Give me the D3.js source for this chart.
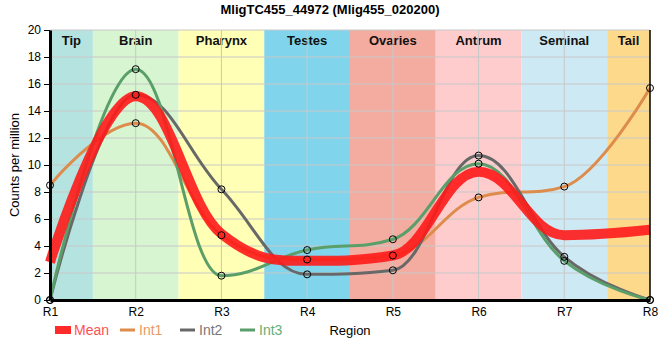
<!DOCTYPE html>
<html>
<head>
<meta charset="utf-8">
<script src="https://cdn.jsdelivr.net/npm/d3@7"></script>
<style>
  body { margin: 0; background: #fff; }
  text { font-family: "Liberation Sans", Arial, sans-serif; }
</style>
</head>
<body>
<div id="chart"></div>
<script>
// chart data
const title = "MligTC455_44972 (Mlig455_020200)";
const regions = ["R1", "R2", "R3", "R4", "R5", "R6", "R7", "R8"];
const tissues = ["Tip", "Brain", "Pharynx", "Testes", "Ovaries", "Antrum", "Seminal", "Tail"];
const tissueColors = ["#b5e3e0", "#d7f5d0", "#ffffb5", "#80d5ec", "#f5aca0", "#fecccc", "#cde9f3", "#fdd98c"];
const int1 = [8.5, 13.1, 4.8, 3.0, 3.3, 7.6, 8.4, 15.7];
const int2 = [0, 15.2, 8.2, 1.9, 2.2, 10.7, 3.2, 0];
const int3 = [0, 17.1, 1.8, 3.7, 4.5, 10.1, 2.9, 0];
const mean = [2.8, 15.1, 4.9, 2.9, 3.3, 9.5, 4.8, 5.2];
const yTicks = [0, 2, 4, 6, 8, 10, 12, 14, 16, 18, 20];

const W = 660, H = 360;
const margin = {top: 30, right: 10, bottom: 60, left: 50};
const width = W - margin.left - margin.right;
const height = H - margin.top - margin.bottom;

const svg = d3.select("#chart").append("svg")
    .attr("width", W)
    .attr("height", H);

const g = svg.append("g")
    .attr("transform", `translate(${margin.left}, ${margin.top})`);

const x = d3.scalePoint().domain(regions).range([0, width]);
const y = d3.scaleLinear().domain([0, 20]).range([height, 0]);
const step = x.step();

// background bands per tissue
tissues.forEach((t, i) => {
    const cx = x(regions[i]);
    const x0 = Math.max(0, cx - step / 2);
    const x1 = Math.min(width, cx + step / 2);
    g.append("rect")
        .attr("x", x0).attr("y", 0)
        .attr("width", x1 - x0).attr("height", height)
        .attr("fill", tissueColors[i]);
    g.append("text")
        .attr("x", (x0 + x1) / 2).attr("y", 15)
        .attr("text-anchor", "middle")
        .attr("font-size", "13px")
        .attr("font-weight", "bold")
        .attr("fill", "#111")
        .text(t);
});

// grid
g.append("g")
    .selectAll("line.h")
    .data(yTicks.slice(1))
    .join("line")
    .attr("x1", 0).attr("x2", width)
    .attr("y1", d => y(d)).attr("y2", d => y(d))
    .attr("stroke", "#c8c8c8").attr("stroke-width", 1);

g.append("g")
    .selectAll("line.v")
    .data(regions.slice(1, -1))
    .join("line")
    .attr("x1", d => x(d)).attr("x2", d => x(d))
    .attr("y1", 0).attr("y2", height)
    .attr("stroke", "#c8c8c8").attr("stroke-width", 1);

// spline: control points 0.4 of the way to the neighbours, flattened at local extremes
function SmoothSpline(context) { this._context = context; }
SmoothSpline.prototype = {
    areaStart() {}, areaEnd() {},
    lineStart() { this._pts = []; },
    point(px, py) { this._pts.push([+px, +py]); },
    lineEnd() {
        const p = this._pts, n = p.length, ctx = this._context;
        if (!n) return;
        ctx.moveTo(p[0][0], p[0][1]);
        const smoothing = 1.5, denom = smoothing + 1;
        let rc = null;
        for (let i = 1; i < n; i++) {
            const [px, py] = p[i];
            let lc = null, nextRc = null;
            if (i < n - 1) {
                const [lx, ly] = p[i - 1], [nx, ny] = p[i + 1];
                const lcx = (smoothing * px + lx) / denom;
                const rcx = (smoothing * px + nx) / denom;
                let lcy = (smoothing * py + ly) / denom;
                let rcy = (smoothing * py + ny) / denom;
                let corr = 0;
                if (rcx !== lcx) corr = ((rcy - lcy) * (rcx - px)) / (rcx - lcx) + py - rcy;
                lcy += corr; rcy += corr;
                if (lcy > ly && lcy > py) { lcy = Math.max(ly, py); rcy = 2 * py - lcy; }
                else if (lcy < ly && lcy < py) { lcy = Math.min(ly, py); rcy = 2 * py - lcy; }
                if (rcy > ny && rcy > py) { rcy = Math.max(ny, py); lcy = 2 * py - rcy; }
                else if (rcy < ny && rcy < py) { rcy = Math.min(ny, py); lcy = 2 * py - rcy; }
                lc = [lcx, lcy];
                nextRc = [rcx, rcy];
            }
            const c1 = rc || p[i - 1];
            const c2 = lc || p[i];
            ctx.bezierCurveTo(c1[0], c1[1], c2[0], c2[1], px, py);
            rc = nextRc;
        }
    }
};
const curveSmooth = ctx => new SmoothSpline(ctx);

const line = d3.line()
    .x((d, i) => x(regions[i]))
    .y(d => y(d))
    .curve(curveSmooth);

const series = [
    {name: "Int1", values: int1, color: "#dd8c4c", text: "#e59a66"},
    {name: "Int2", values: int2, color: "#686868", text: "#777777"},
    {name: "Int3", values: int3, color: "#5a9e6a", text: "#67ad77"}
];

series.forEach(s => {
    g.append("path")
        .datum(s.values)
        .attr("fill", "none")
        .attr("stroke", s.color)
        .attr("stroke-width", 3)
        .attr("d", line);
});

g.append("path")
    .datum(mean)
    .attr("fill", "none")
    .attr("stroke", "#ff1a1a")
    .attr("stroke-opacity", 0.9)
    .attr("stroke-width", 10)
    .attr("d", line);

// axes
g.append("line")
    .attr("x1", width).attr("x2", width)
    .attr("y1", 0).attr("y2", height)
    .attr("stroke", "#000").attr("stroke-width", 1.5);

const yAxis = g.append("g")
    .call(d3.axisLeft(y).tickValues(yTicks).tickSize(6).tickSizeOuter(0));
yAxis.select(".domain").attr("stroke-width", 3);
yAxis.selectAll("text").attr("font-size", "12px").attr("fill", "#000")
    .style("font-family", "'Liberation Sans', Arial, sans-serif");

const xAxis = g.append("g")
    .attr("transform", `translate(0, ${height})`)
    .call(d3.axisBottom(x).tickSize(0).tickSizeOuter(0).tickPadding(7));
xAxis.select(".domain").attr("stroke-width", 3);
xAxis.selectAll("text").attr("font-size", "12px").attr("fill", "#000")
    .style("font-family", "'Liberation Sans', Arial, sans-serif");

// data point circles
series.forEach(s => {
    g.append("g")
        .selectAll("circle")
        .data(s.values)
        .join("circle")
        .attr("cx", (d, i) => x(regions[i]))
        .attr("cy", d => y(d))
        .attr("r", 3.5)
        .attr("fill", "none")
        .attr("stroke", "#000")
        .attr("stroke-width", 1);
});

// title and labels
svg.append("text")
    .attr("x", margin.left + width / 2 - 20).attr("y", 14)
    .attr("text-anchor", "middle")
    .attr("font-size", "13px")
    .attr("font-weight", "bold")
    .text(title);

svg.append("text")
    .attr("transform", `translate(19, ${margin.top + height / 2}) rotate(-90)`)
    .attr("text-anchor", "middle")
    .attr("font-size", "13px")
    .text("Counts per million");

svg.append("text")
    .attr("x", margin.left + width / 2).attr("y", 335)
    .attr("text-anchor", "middle")
    .attr("font-size", "13px")
    .text("Region");

// legend
const legend = svg.append("g").attr("transform", "translate(55, 330)");
legend.append("rect")
    .attr("x", 0).attr("y", -4).attr("width", 16).attr("height", 8)
    .attr("fill", "#ff2a2a");
legend.append("text")
    .attr("x", 19).attr("y", 5)
    .attr("font-size", "14px")
    .attr("fill", "#ff5050")
    .text("Mean");

const legendX = [65, 125, 185];
series.forEach((s, i) => {
    legend.append("line")
        .attr("x1", legendX[i]).attr("x2", legendX[i] + 15)
        .attr("y1", 0).attr("y2", 0)
        .attr("stroke", s.color).attr("stroke-width", 3);
    legend.append("text")
        .attr("x", legendX[i] + 19).attr("y", 5)
        .attr("font-size", "14px")
        .attr("fill", s.text)
        .text(s.name);
});
</script>
</body>
</html>
